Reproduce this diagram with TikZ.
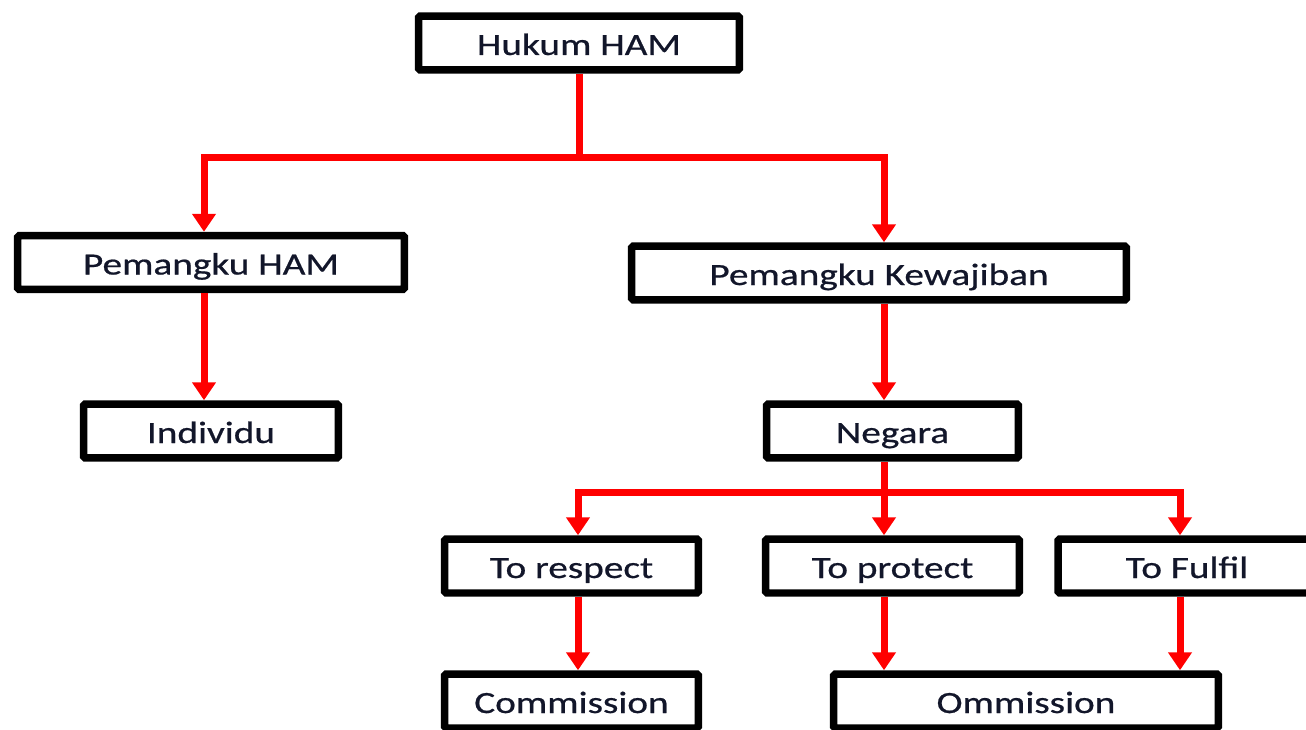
\documentclass[tikz,border=0pt]{standalone}
\usepackage{fontspec}
\setmainfont{Carlito}[FakeStretch=1.27, FakeBold=0.6]
\usepackage{tikz}
\usetikzlibrary{arrows.meta,shadows}

\definecolor{inknavy}{RGB}{18,22,42}
\definecolor{linkred}{RGB}{255,0,0}

\begin{document}
\begin{tikzpicture}[x=0.02cm, y=-0.02cm,
    box/.style={draw=black, fill=white, line width=0.15cm, rounded corners=1pt,
      minimum height=1.08cm, text height=0.6cm, text depth=0.12cm,
      font=\fontsize{17.6}{20}\selectfont, text=inknavy,
      drop shadow={shadow xshift=0.04cm, shadow yshift=-0.04cm, opacity=0.25}},
    link/.style={draw=linkred, line width=0.14cm, line join=miter},
    linkto/.style={link, -{Triangle[width=0.46cm, length=0.36cm]}}]

  % Fix the page to the picture
  \clip (0,0) rectangle (1306,730);
  \fill[white] (0,0) rectangle (1306,730);

  % Draw the boxes
  \node[box, minimum width=6.42cm] (hukum) at (579,43) {Hukum HAM};
  \node[box, minimum width=7.74cm] (pham) at (211,262.5) {Pemangku HAM};
  \node[box, minimum width=5.10cm] (indiv) at (211,431) {Individu};
  \node[box, minimum width=9.90cm] (pkew) at (879,273) {Pemangku Kewajiban};
  \node[box, minimum width=5.04cm] (negara) at (892.5,431) {Negara};
  \node[box, minimum width=5.08cm] (respect) at (571.5,566) {To respect};
  \node[box, minimum width=5.08cm] (protect) at (892.5,566) {To protect};
  \node[box, minimum width=5.16cm] (fulfil) at (1187,566) {To Fulfil};
  \node[box, minimum width=5.08cm] (commission) at (571.5,701) {Commission};
  \node[box, minimum width=7.70cm] (ommission) at (1026,701) {Ommission};

  % Draw the branch points
  \coordinate (fork1) at (579,157);
  \coordinate (fork2) at (884,492);
  \coordinate (colA) at (204,157);
  \coordinate (colB) at (884,157);
  \coordinate (colC) at (578,492);
  \coordinate (colD) at (1180,492);

  % Draw the upper arrows
  \draw[link] (hukum.south -| fork1) -- (fork1);
  \draw[linkto] (fork1) -| (pham.north -| colA);
  \draw[linkto] (fork1) -| (pkew.north -| colB);
  \draw[linkto] (pham.south -| colA) -- (indiv.north -| colA);
  \draw[linkto] (pkew.south -| colB) -- (negara.north -| colB);

  % Draw the arrows below Negara
  \draw[link] (negara.south -| fork2) -- (fork2);
  \draw[linkto] (fork2) -| (respect.north -| colC);
  \draw[linkto] (fork2) -- (protect.north -| fork2);
  \draw[linkto] (fork2) -| (fulfil.north -| colD);
  \draw[linkto] (respect.south -| colC) -- (commission.north -| colC);
  \draw[linkto] (protect.south -| fork2) -- (ommission.north -| fork2);
  \draw[linkto] (fulfil.south -| colD) -- (ommission.north -| colD);
\end{tikzpicture}
\end{document}
